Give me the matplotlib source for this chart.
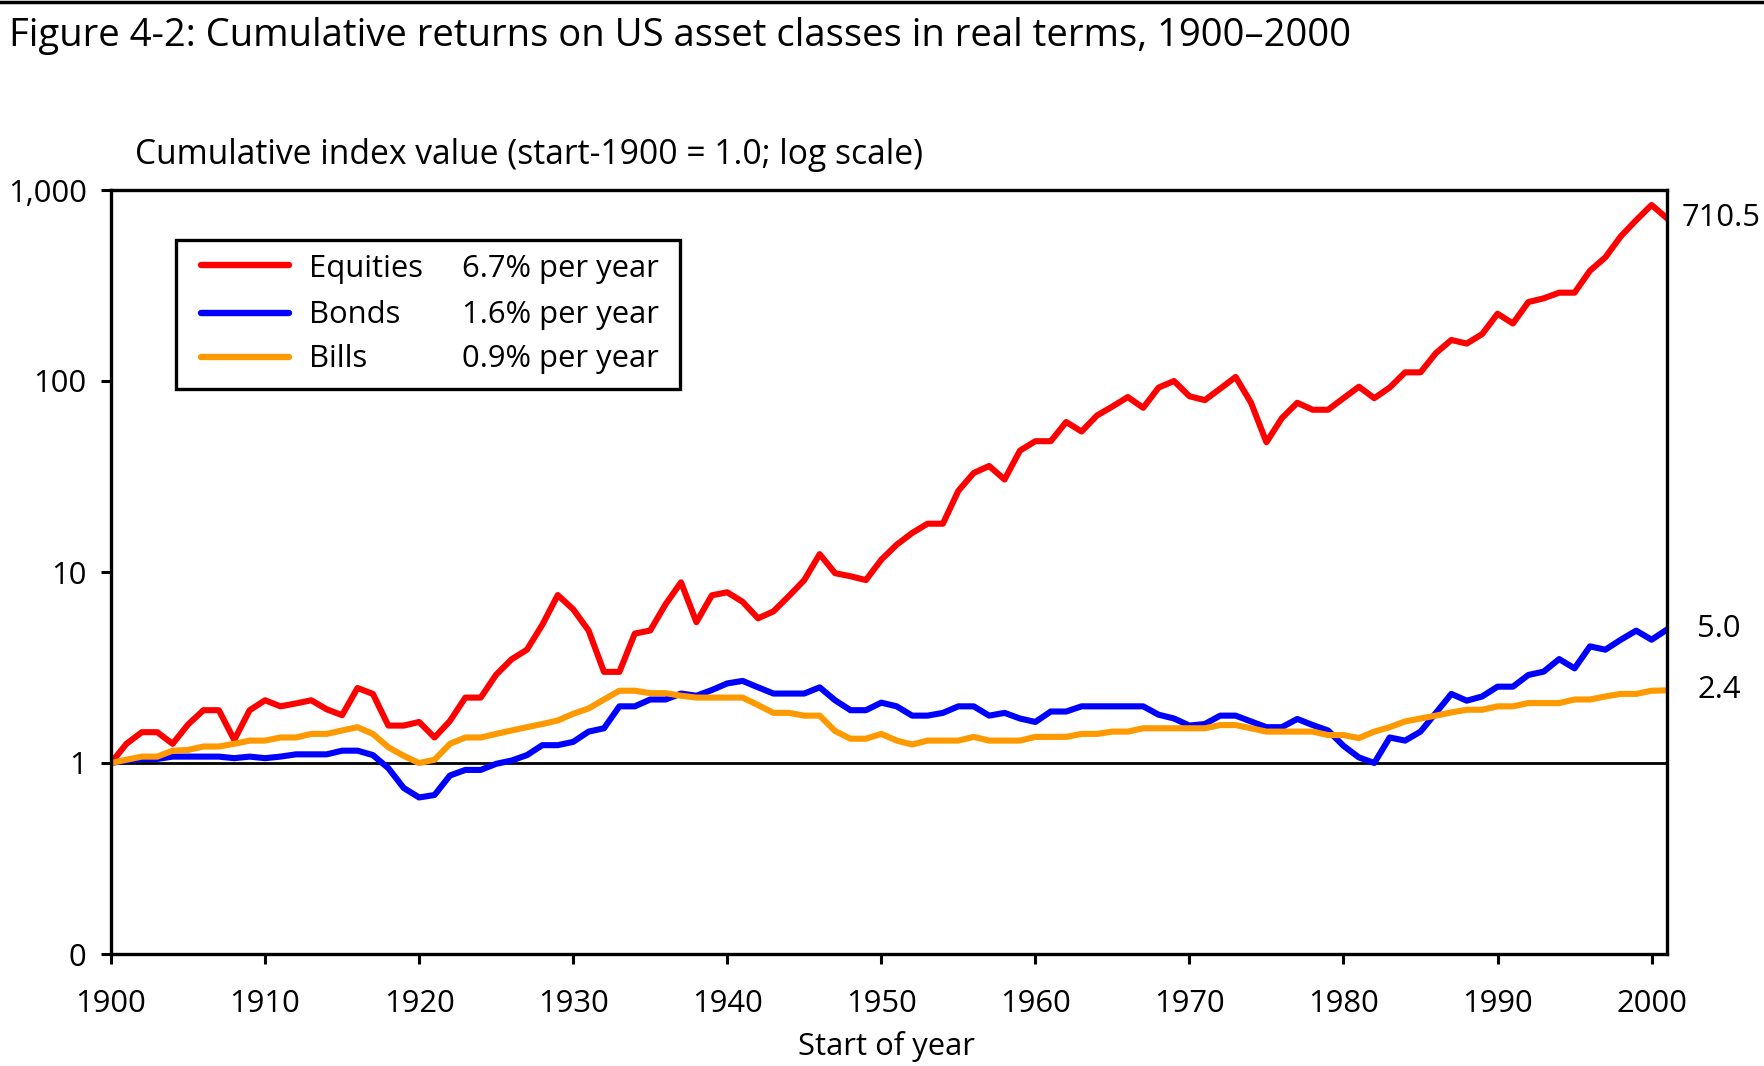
import matplotlib
matplotlib.use("Agg")
import matplotlib.pyplot as plt
from matplotlib.lines import Line2D
from matplotlib.patches import Rectangle
from matplotlib.ticker import FixedLocator, FixedFormatter, NullLocator

plt.rcParams['font.family'] = ['Open Sans', 'DejaVu Sans']

# ---------------- data ----------------
years = list(range(1900, 2002))

equities = [
    1.0, 1.26, 1.45, 1.45, 1.26, 1.59, 1.89, 1.89, 1.32, 1.89,
    2.13, 1.98, 2.05, 2.13, 1.91, 1.78, 2.47, 2.30, 1.57, 1.57,
    1.64, 1.36, 1.66, 2.20, 2.20, 2.90, 3.49, 3.92, 5.30, 7.57,
    6.38, 4.94, 3.00, 3.00, 4.76, 4.94, 6.78, 8.83, 5.46, 7.55,
    7.83, 6.98, 5.72, 6.22, 7.48, 9.07, 12.4, 9.86, 9.5, 9.07,
    11.6, 13.9, 16.0, 17.9, 17.9, 26.6, 33.0, 35.9, 30.5, 43.2,
    48.4, 48.4, 61.0, 54.4, 66.0, 73.5, 82.4, 72.4, 92.4, 100.0,
    83.2, 79.4, 91.2, 105.0, 76.9, 47.8, 63.9, 76.9, 70.7, 70.7,
    81.3, 93.3, 81.3, 92.4, 111.0, 111.0, 140.0, 164.0, 157.0, 176.0,
    225.0, 200.0, 259.0, 271.0, 290.0, 290.0, 378.0, 444.0, 572.0, 695.0,
    835.0, 710.5,
]

bonds = [
    1.0, 1.03, 1.05, 1.05, 1.08, 1.08, 1.08, 1.08, 1.06, 1.08,
    1.06, 1.08, 1.11, 1.11, 1.11, 1.16, 1.16, 1.10, 0.94, 0.74,
    0.66, 0.68, 0.86, 0.92, 0.92, 0.99, 1.03, 1.10, 1.24, 1.24,
    1.29, 1.46, 1.52, 1.98, 1.98, 2.15, 2.15, 2.31, 2.25, 2.41,
    2.61, 2.69, 2.49, 2.31, 2.31, 2.31, 2.49, 2.13, 1.89, 1.89,
    2.07, 1.98, 1.77, 1.77, 1.83, 1.98, 1.98, 1.77, 1.83, 1.71,
    1.64, 1.86, 1.86, 1.98, 1.98, 1.98, 1.98, 1.98, 1.79, 1.71,
    1.57, 1.60, 1.77, 1.77, 1.65, 1.54, 1.54, 1.70, 1.58, 1.48,
    1.23, 1.07, 1.0, 1.36, 1.31, 1.46, 1.83, 2.30, 2.12, 2.23,
    2.51, 2.51, 2.89, 3.01, 3.50, 3.13, 4.08, 3.92, 4.42, 4.93,
    4.42, 5.0,
]

bills = [
    1.0, 1.04, 1.08, 1.08, 1.16, 1.17, 1.22, 1.22, 1.26, 1.31,
    1.31, 1.36, 1.36, 1.42, 1.42, 1.48, 1.54, 1.42, 1.21, 1.09,
    1.0, 1.04, 1.26, 1.36, 1.36, 1.42, 1.48, 1.54, 1.60, 1.67,
    1.81, 1.93, 2.15, 2.39, 2.39, 2.32, 2.32, 2.25, 2.20, 2.20,
    2.20, 2.20, 2.01, 1.83, 1.83, 1.77, 1.77, 1.47, 1.34, 1.34,
    1.42, 1.31, 1.25, 1.31, 1.31, 1.31, 1.37, 1.31, 1.31, 1.31,
    1.37, 1.37, 1.37, 1.42, 1.42, 1.46, 1.46, 1.52, 1.52, 1.52,
    1.52, 1.52, 1.58, 1.58, 1.52, 1.46, 1.46, 1.46, 1.46, 1.40,
    1.40, 1.35, 1.46, 1.54, 1.65, 1.71, 1.77, 1.84, 1.90, 1.90,
    1.98, 1.98, 2.06, 2.06, 2.06, 2.15, 2.15, 2.23, 2.30, 2.30,
    2.39, 2.4,
]

series_names = ["Equities", "Bonds", "Bills"]
series_rates = ["6.7% per year", "1.6% per year", "0.9% per year"]
end_labels = ["710.5", "5.0", "2.4"]

y_ticks = [0.1, 1, 10, 100, 1000]
y_tick_labels = ["0", "1", "10", "100", "1,000"]
x_ticks = list(range(1900, 2001, 10))

title = "Figure 4-2: Cumulative returns on US asset classes in real terms, 1900\u20132000"
ylabel = "Cumulative index value (start-1900 = 1.0; log scale)"
xlabel = "Start of year"

RED, BLUE, ORANGE = "#FF0000", "#0000FF", "#FF9900"
colors = [RED, BLUE, ORANGE]

# ---------------- figure ----------------
W, H = 1764, 1066
fig = plt.figure(figsize=(W / 100, H / 100), dpi=100)
renderer = fig.canvas.get_renderer()


def fit(t, width):
    bb = t.get_window_extent(renderer)
    t.set_fontsize(t.get_fontsize() * width / bb.width)
    return t.get_fontsize()


# measure font size for tick labels
tmp = fig.text(0, 0, "1900", fontsize=20)
tick_fs = fit(tmp, 71)
tmp.remove()

ax = fig.add_axes([111 / W, 1 - 954 / H, (1667 - 111) / W, (954 - 190) / H])

ax.axhline(1, color="black", lw=2.0, zorder=1.5)
for vals, c in zip([equities, bonds, bills], colors):
    ax.plot(years, vals, color=c, lw=4.4, zorder=2)

ax.set_yscale("log")
ax.set_ylim(0.1, 1000)
ax.set_xlim(1900, 2001)
ax.yaxis.set_major_locator(FixedLocator(y_ticks))
ax.yaxis.set_major_formatter(FixedFormatter(y_tick_labels))
ax.yaxis.set_minor_locator(NullLocator())
ax.xaxis.set_major_locator(FixedLocator(x_ticks))
ax.xaxis.set_minor_locator(NullLocator())

for s in ax.spines.values():
    s.set_linewidth(2.4)
ax.tick_params(axis="both", direction="out", length=7.5, width=2.2,
               labelsize=tick_fs, colors="black")
ax.tick_params(axis="y", pad=10)
ax.tick_params(axis="x", pad=18)

# end labels
ax.text(2001.97, equities[-1], end_labels[0], fontsize=tick_fs, va="center",
        ha="left", clip_on=False)
ax.text(2002.95, bonds[-1], end_labels[1], fontsize=tick_fs, va="center",
        ha="left", clip_on=False)
ax.text(2002.95, bills[-1], end_labels[2], fontsize=tick_fs, va="center",
        ha="left", clip_on=False)

# legend (drawn in axes coordinates)
x0, x1 = (176 - 111) / 1556, (680 - 111) / 1556
y0, y1 = (954 - 389) / 764, (954 - 240) / 764
ax.add_patch(Rectangle((x0, y0), x1 - x0, y1 - y0, transform=ax.transAxes,
                       facecolor="white", edgecolor="black", lw=2.4, zorder=5))
row_line = [(954 - 265) / 764, (954 - 313) / 764, (954 - 357) / 764]
row_base = [(954 - 276.5) / 764, (954 - 323) / 764, (954 - 367) / 764]
hx0, hx1 = (201 - 111) / 1556, (289 - 111) / 1556
name_x = (309 - 111) / 1556
rate_x = (659 - 111) / 1556
for i in range(3):
    ax.add_line(Line2D([hx0, hx1], [row_line[i]] * 2, transform=ax.transAxes,
                       color=colors[i], lw=4.6, solid_capstyle="round", zorder=6))
    ax.text(name_x, row_base[i], series_names[i], transform=ax.transAxes,
            fontsize=tick_fs, va="baseline", ha="left", zorder=6)
    ax.text(rate_x, row_base[i], series_rates[i], transform=ax.transAxes,
            fontsize=tick_fs, va="baseline", ha="right", zorder=6)

# titles and labels
t_title = fig.text(9 / W, 1 - 36 / H, title, fontsize=28, va="center", ha="left")
fit(t_title, 1341)
t_yl = fig.text(135 / W, 1 - 155 / H, ylabel, fontsize=tick_fs, va="center", ha="left")
fit(t_yl, 787)
fig.text(886 / W, 1 - 1046 / H, xlabel, fontsize=tick_fs, va="center", ha="center")

# top rule
fig.add_artist(Line2D([0, 1], [1 - 1.5 / H] * 2, transform=fig.transFigure,
                      color="black", lw=2.5))

fig.savefig("out.png", dpi=100, facecolor="white")
